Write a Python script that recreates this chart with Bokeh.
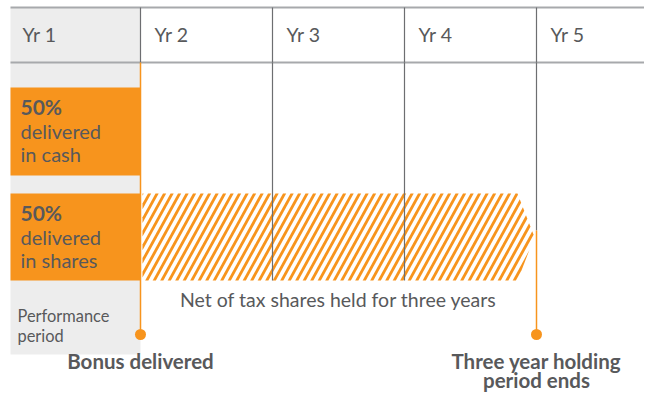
import numpy as np
from bokeh.plotting import figure
from bokeh.models import Range1d
from bokeh.core.properties import value
from bokeh.embed import file_html
from bokeh.resources import INLINE

# ---------------- data ----------------
years = ["Yr 1", "Yr 2", "Yr 3", "Yr 4", "Yr 5"]
cash_pct = 50
shares_pct = 50
bonus_year = 1        # bonus delivered at end of year 1
holding_years = 3     # net-of-tax shares held for three years
cash_lines = ["delivered", "in cash"]
shares_lines = ["delivered", "in shares"]
perf_lines = ["Performance", "period"]
hold_label = "Net of tax shares held for three years"
bonus_label = ["Bonus delivered"]
end_label = ["Three year holding", "period ends"]

# ---------------- styling / layout ----------------
ORANGE = "#F7941D"
GREY_BG = "#EDEDED"
TEXT = "#58595B"
HLINE = "#A7A9AC"
VLINE = "#6D6E71"
FONT = value("Lato")

W, H = 644, 394
PX = 132.0                      # pixels per year column
OFF = 8.0                       # pixel position of x = 0
x0 = 2 / PX                     # left edge of the table
xmin = -OFF / PX
xmax = (W - OFF) / PX
hold_end = bonus_year + holding_years

p = figure(width=W, height=H, x_range=Range1d(xmin, xmax), y_range=Range1d(H, 0),
           output_backend="svg", toolbar_location=None, min_border=0,
           x_axis_type=None, y_axis_type=None)
p.grid.visible = False
p.outline_line_color = None
p.background_fill_color = "white"
p.border_fill_color = "white"

# row geometry (pixels from top of plot)
HEAD_TOP, HEAD_BOT = 7, 62
BOX1 = (87, 175)
BOX2 = (193, 280)
COL_BOT = 354
DOT_Y = 334
END_SPLIT = 230

# grey first column
p.quad(left=[x0], right=[bonus_year], top=[HEAD_TOP], bottom=[COL_BOT],
       fill_color=GREY_BG, line_color=None)

# orange boxes (cash / shares)
p.quad(left=[x0, x0], right=[bonus_year, bonus_year],
       top=[BOX1[0], BOX2[0]], bottom=[BOX1[1], BOX2[1]],
       fill_color=ORANGE, line_color=None)

# hatched holding-period arrow
sh = hold_end - 19 / PX
tip = hold_end - 2 / PX
left = bonus_year + 2 / PX
ymid = (BOX2[0] + BOX2[1]) / 2
arrow = [(left * PX, BOX2[0]), (sh * PX, BOX2[0]), (tip * PX, ymid),
         (sh * PX, BOX2[1]), (left * PX, BOX2[1])]


def clip(poly, clip_poly):
    out = poly
    n = len(clip_poly)
    for i in range(n):
        a = clip_poly[i]
        b = clip_poly[(i + 1) % n]
        inp = out
        out = []
        if not inp:
            break

        def inside(pt):
            return (b[0] - a[0]) * (pt[1] - a[1]) - (b[1] - a[1]) * (pt[0] - a[0]) >= 0

        def inter(p1, p2):
            x1, y1 = p1
            x2, y2 = p2
            x3, y3 = a
            x4, y4 = b
            den = (x1 - x2) * (y3 - y4) - (y1 - y2) * (x3 - x4)
            t = ((x1 - x3) * (y3 - y4) - (y1 - y3) * (x3 - x4)) / den
            return (x1 + t * (x2 - x1), y1 + t * (y2 - y1))

        s = inp[-1]
        for e in inp:
            if inside(e):
                if not inside(s):
                    out.append(inter(s, e))
                out.append(e)
            elif inside(s):
                out.append(inter(s, e))
            s = e
    return out


hh = BOX2[1] - BOX2[0]
k = 0.55          # horizontal drift per pixel of height
sw = 3.2          # stripe width (horizontal)
gap = 7.5
sxs, sys_ = [], []
xb = left * PX - k * hh - 2
while xb < tip * PX + 5:
    para = [(xb, BOX2[1]), (xb + sw, BOX2[1]),
            (xb + sw + k * hh, BOX2[0]), (xb + k * hh, BOX2[0])]
    c = clip(para, arrow)
    if len(c) >= 3:
        sxs.append([pt[0] / PX for pt in c])
        sys_.append([pt[1] for pt in c])
    xb += gap
p.patches(xs=sxs, ys=sys_, fill_color=ORANGE, line_color=None)

# horizontal table lines
p.segment(x0=[x0, x0], x1=[xmax, xmax], y0=[HEAD_TOP, HEAD_BOT], y1=[HEAD_TOP, HEAD_BOT],
          line_color=HLINE, line_width=2.2)

# vertical dividers in header
cols = np.arange(1, len(years))
p.segment(x0=cols, x1=cols, y0=[HEAD_TOP] * len(cols), y1=[HEAD_BOT] * len(cols),
          line_color=VLINE, line_width=1.2)
# body dividers (grey)
mid_cols = [c for c in cols if bonus_year < c < hold_end]
p.segment(x0=mid_cols, x1=mid_cols, y0=[HEAD_BOT] * len(mid_cols),
          y1=[BOX2[1]] * len(mid_cols), line_color=VLINE, line_width=1.2)
p.segment(x0=[hold_end], x1=[hold_end], y0=[HEAD_BOT], y1=[END_SPLIT],
          line_color=VLINE, line_width=1.2)
# orange event lines
p.segment(x0=[bonus_year, hold_end], x1=[bonus_year, hold_end],
          y0=[HEAD_BOT, END_SPLIT], y1=[DOT_Y, DOT_Y],
          line_color=ORANGE, line_width=1.5)
p.scatter(x=[bonus_year, hold_end], y=[DOT_Y, DOT_Y], size=11,
          fill_color=ORANGE, line_color=None)


def label(xs, baselines, texts, size, bold=False, align="left"):
    # place text by its visual middle (baseline minus ~0.36 em)
    p.text(x=xs, y=[b - 0.36 * size for b in baselines], text=texts, text_font=FONT,
           text_font_size=f"{size}px", text_font_style="bold" if bold else "normal",
           text_color=TEXT, text_baseline="middle", text_align=align)


# header text
label([i + 14 / PX for i in range(len(years))], [41] * len(years), years, 19.5)

# box text
bx = 12 / PX
for top, lines, pct in [(BOX1[0], cash_lines, cash_pct), (BOX2[0], shares_lines, shares_pct)]:
    label([bx], [top + 26.5], [f"{pct}%"], 21, bold=True)
    label([bx, bx], [top + 50.5, top + 74], lines, 20)

# performance period
label([9 / PX, 9 / PX], [321, 341], perf_lines, 16.4)

# holding label
label([(bonus_year + hold_end) / 2], [306], [hold_label], 19.5, align="center")

# bottom labels
label([bonus_year], [368], bonus_label, 20.5, bold=True, align="center")
label([hold_end, hold_end], [368, 387], end_label, 20.5, bold=True, align="center")

open("out.html", "w").write(file_html(p, INLINE))
